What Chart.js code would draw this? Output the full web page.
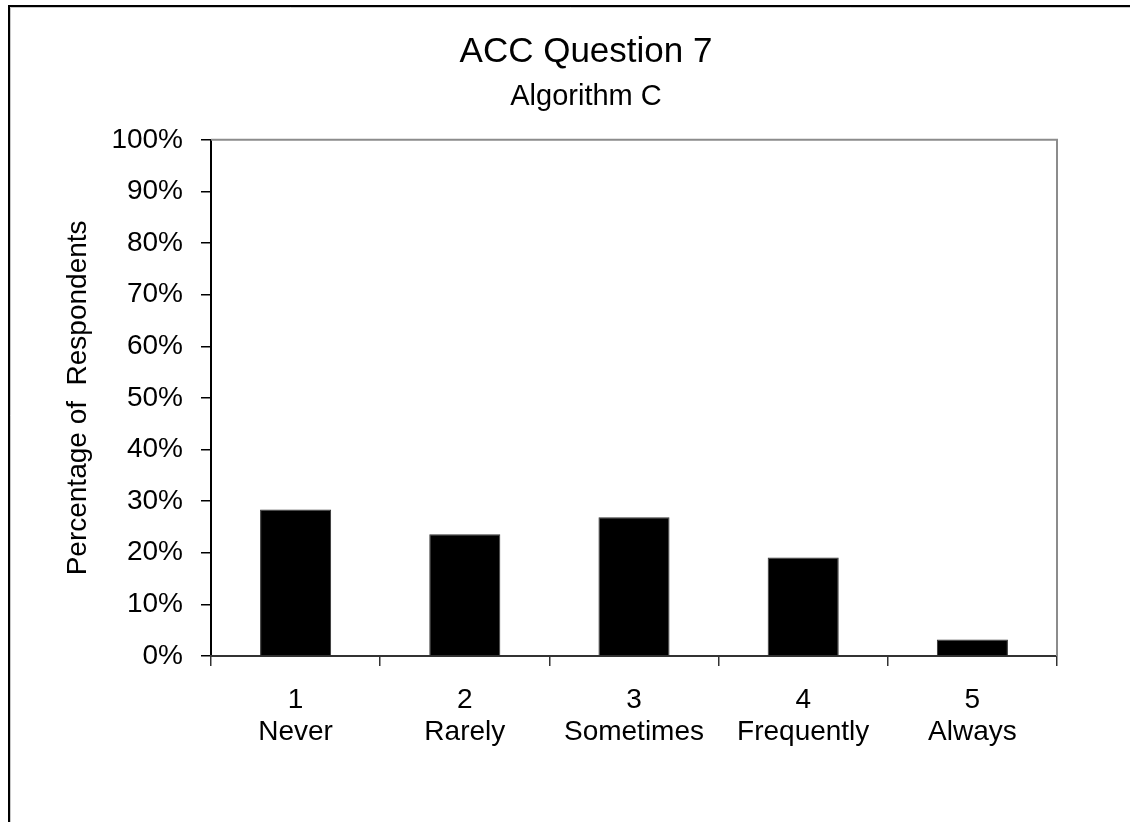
<!DOCTYPE html>
<html>
<head>
<meta charset="utf-8">
<script src="https://cdn.jsdelivr.net/npm/chart.js@4.4.1/dist/chart.umd.min.js"></script>
<style>
html,body{margin:0;padding:0;background:#fff;}
#wrap{width:1130px;height:822px;position:relative;}
</style>
</head>
<body>
<div id="wrap"><canvas id="c" width="1130" height="822"></canvas></div>
<script>
const categoryNumbers = ['1', '2', '3', '4', '5'];
const categoryNames = ['Never', 'Rarely', 'Sometimes', 'Frequently', 'Always'];
const percentValues = [28.4, 23.6, 26.9, 19.1, 3.2];
const yTickValues = [0, 10, 20, 30, 40, 50, 60, 70, 80, 90, 100];

const FONT = "'Liberation Sans', Arial, sans-serif";

const framePlugin = {
  id: 'frame',
  beforeDraw(chart) {
    const ctx = chart.ctx;
    ctx.save();
    ctx.fillStyle = '#fff';
    ctx.fillRect(0, 0, chart.width, chart.height);
    ctx.strokeStyle = '#c8c8c8';
    ctx.lineWidth = 1;
    ctx.beginPath();
    ctx.moveTo(10.5, chart.height + 5);
    ctx.lineTo(10.5, 7.5);
    ctx.lineTo(chart.width + 5, 7.5);
    ctx.stroke();
    ctx.strokeStyle = '#000';
    ctx.lineWidth = 2;
    ctx.beginPath();
    ctx.moveTo(9, chart.height + 5);
    ctx.lineTo(9, 6);
    ctx.lineTo(chart.width + 5, 6);
    ctx.stroke();
    ctx.restore();
  },
  beforeDatasetsDraw(chart) {
    const a = chart.chartArea;
    const ctx = chart.ctx;
    ctx.save();
    ctx.strokeStyle = '#8c8c8c';
    ctx.lineWidth = 2;
    ctx.beginPath();
    ctx.moveTo(a.left, a.top);
    ctx.lineTo(a.right, a.top);
    ctx.lineTo(a.right, a.bottom);
    ctx.stroke();
    ctx.restore();
  }
};

new Chart(document.getElementById('c'), {
  type: 'bar',
  data: {
    labels: categoryNumbers.map((n, i) => [n, categoryNames[i]]),
    datasets: [{
      data: percentValues,
      backgroundColor: '#000',
      borderColor: '#333',
      borderWidth: 1,
      barPercentage: 0.42,
      categoryPercentage: 1.0
    }]
  },
  options: {
    responsive: false,
    animation: false,
    devicePixelRatio: 1,
    layout: { padding: { left: 42, right: 0, top: 0, bottom: 0 } },
    plugins: {
      legend: { display: false },
      tooltip: { enabled: false },
      title: {
        display: true,
        text: 'ACC Question 7',
        color: '#000',
        font: { family: FONT, size: 35, weight: 'normal', lineHeight: 1.2 },
        padding: { top: 31, bottom: 0 }
      },
      subtitle: {
        display: true,
        text: 'Algorithm C',
        color: '#000',
        font: { family: FONT, size: 29, weight: 'normal', lineHeight: 1.2 },
        padding: { top: 7, bottom: 25 }
      }
    },
    scales: {
      y: {
        min: 0,
        max: 100,
        afterFit(scale) { scale.width = 169; },
        afterBuildTicks(scale) { scale.ticks = yTickValues.map(v => ({ value: v })); },
        ticks: {
          color: '#000',
          font: { family: FONT, size: 28 },
          padding: 18,
          callback: v => v + '%'
        },
        grid: { drawOnChartArea: false, drawTicks: true, tickLength: 10, color: '#000', lineWidth: 1.5 },
        border: { display: true, color: '#000', width: 2 },
        title: {
          display: true,
          text: 'Percentage of  Respondents',
          color: '#000',
          font: { family: FONT, size: 28, lineHeight: 1.2 },
          padding: { top: 19, bottom: 0 }
        }
      },
      spacer: {
        type: 'linear',
        position: 'right',
        display: true,
        afterFit(scale) { scale.width = 73; },
        ticks: { display: false },
        grid: { display: false },
        border: { display: false }
      },
      x: {
        afterFit(scale) { scale.height = 822 - 656; },
        ticks: {
          color: '#000',
          font: { family: FONT, size: 28, lineHeight: 1.16 },
          padding: 18,
          maxRotation: 0,
          autoSkip: false
        },
        grid: { drawOnChartArea: false, drawTicks: true, tickLength: 10, offset: true, color: '#333', lineWidth: 1.5 },
        border: { display: true, color: '#333', width: 2 }
      }
    }
  },
  plugins: [framePlugin]
});
</script>
</body>
</html>
